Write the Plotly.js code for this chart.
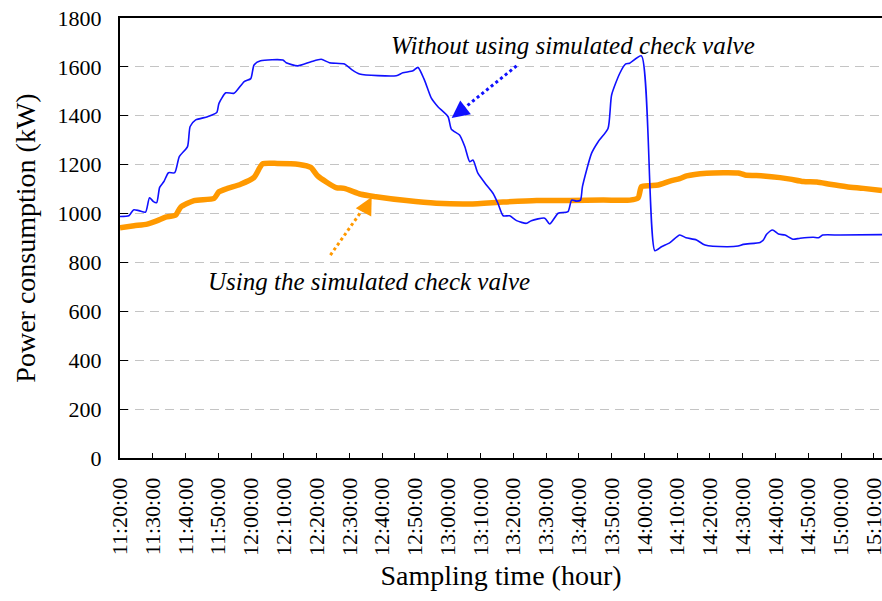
<!DOCTYPE html>
<html>
<head>
<meta charset="utf-8">
<script src="https://cdn.plot.ly/plotly-3.0.1.min.js"></script>
<style>html,body{margin:0;padding:0;background:#fff;}#chart{width:882px;height:601px;}</style>
</head>
<body>
<div id="chart"></div>
<script>
// Minutes after 11:20:00
const tickMinutes = [0,10,20,30,40,50,60,70,80,90,100,110,120,130,140,150,160,170,180,190,200,210,220,230];
const tickLabels = ["11:20:00","11:30:00","11:40:00","11:50:00","12:00:00","12:10:00","12:20:00","12:30:00","12:40:00","12:50:00","13:00:00","13:10:00","13:20:00","13:30:00","13:40:00","13:50:00","14:00:00","14:10:00","14:20:00","14:30:00","14:40:00","14:50:00","15:00:00","15:10:00"];

// Without using simulated check valve (kW)
const withoutTime = [0,2.7,4.1,5.8,7.8,9.0,10.2,11.2,12.1,13.4,14.8,16.7,18.1,20.6,21.4,23.1,26.7,29.5,30.2,32.3,34.8,37.9,39.9,40.9,42.9,49.7,50.7,54.2,58.3,61.4,63.9,68.5,70.6,73.1,84.3,86.3,89.4,90.9,92.9,95.0,97.0,100.1,101.1,103.6,105.2,106.7,107.7,109.2,111.8,113.8,115.3,116.9,118.9,121.0,124.0,125.5,129.6,131.1,133.7,136.7,137.8,139.3,140.5,141.1,143.9,145.9,148.9,150.0,152.5,154.3,155.5,159.1,163.2,165.2,167.8,170.8,172.7,175.9,178.5,185.1,188.6,190.2,195.3,196.3,197.3,199.1,200.9,202.9,205.3,207.5,211.5,213.1,214.4,219.7,232.5];
const withoutPower = [988,991,1015,1012,1006,1065,1049,1045,1107,1131,1167,1167,1233,1274,1356,1383,1396,1413,1451,1494,1492,1540,1552,1608,1625,1628,1617,1604,1621,1631,1617,1612,1590,1571,1564,1576,1584,1598,1546,1472,1437,1396,1345,1321,1274,1212,1219,1165,1117,1083,1042,991,991,971,960,971,981,957,1001,1008,1055,1051,1055,1110,1247,1294,1348,1485,1574,1612,1615,1645,848,864,881,912,901,892,871,864,867,874,882,892,915,933,916,912,895,899,903,901,912,912,914];

// Using the simulated check valve (kW)
const withTime = [0,4.3,8.3,11.4,13.9,17.0,18.5,22.6,28.7,30.2,32.8,36.8,40.9,43.5,48.0,54.7,58.2,60.3,65.9,68.4,73.5,78.1,87.4,96.5,106.7,116.9,127.1,137.2,147.4,155.6,158.1,159.1,161.7,164.2,167.8,170.8,172.9,179.0,184.1,188.6,190.7,196.3,201.4,204.5,208.5,212.6,216.6,221.7,226.8,232.5];
const withPower = [942,950,957,971,985,994,1026,1053,1062,1089,1103,1120,1148,1203,1205,1201,1189,1154,1106,1103,1079,1069,1053,1042,1039,1047,1053,1053,1055,1055,1064,1110,1114,1117,1133,1143,1154,1165,1167,1166,1158,1154,1147,1141,1131,1129,1120,1110,1103,1094];

const serif = "Liberation Serif, Times New Roman, serif";

const traces = [
  {x: withTime, y: withPower, type: 'scatter', mode: 'lines', name: 'Using the simulated check valve',
   line: {color: '#FF9900', width: 5.5, shape: 'spline', smoothing: 0.6}},
  {x: withoutTime, y: withoutPower, type: 'scatter', mode: 'lines', name: 'Without using simulated check valve',
   line: {color: '#1010FF', width: 1.6, shape: 'spline', smoothing: 0.6}}
];

const layout = {
  width: 882, height: 601,
  margin: {l: 120, r: 0, t: 18, b: 143},
  paper_bgcolor: '#fff', plot_bgcolor: '#fff',
  showlegend: false,
  font: {family: serif, color: '#000', size: 22},
  xaxis: {
    range: [0, 232.5], tickmode: 'array', tickvals: tickMinutes, ticktext: tickLabels,
    tickangle: -90, ticks: 'inside', ticklen: 5, tickcolor: '#000', tickwidth: 1,
    ticklabelstandoff: 9, ticklabeloverflow: 'allow',
    showline: true, linecolor: '#000', linewidth: 2, mirror: true,
    showgrid: false, zeroline: false,
    tickfont: {family: serif, size: 22, color: '#000'},
    title: {text: 'Sampling time (hour)', font: {family: serif, size: 28, color: '#000'}, standoff: 10}
  },
  yaxis: {
    range: [0, 1800], tickmode: 'linear', tick0: 0, dtick: 200,
    ticks: 'inside', ticklen: 8, tickcolor: '#000', tickwidth: 1,
    ticklabelstandoff: 12,
    showline: true, linecolor: '#000', linewidth: 2,
    showgrid: true, gridcolor: '#c4c4c4', gridwidth: 1, griddash: '9px,6px',
    zeroline: false,
    tickfont: {family: serif, size: 22, color: '#000'},
    title: {text: 'Power consumption (kW)', font: {family: serif, size: 28, color: '#000'}, standoff: 14}
  },
  shapes: [
    {type: 'line', xref: 'x', yref: 'y', x0: 121.0, y0: 1604, x1: 103.5, y1: 1415,
     line: {color: '#1010FF', width: 3, dash: 'dot'}},
    {type: 'line', xref: 'x', yref: 'y', x0: 64.2, y0: 830, x1: 75.0, y1: 1035,
     line: {color: '#FF9900', width: 3, dash: 'dot'}}
  ],
  annotations: [
    {x: 101.2, y: 1391, xref: 'x', yref: 'y', ax: 104.5, ay: 1425, axref: 'x', ayref: 'y',
     showarrow: true, arrowhead: 2, arrowsize: 1.4, arrowwidth: 2.5, arrowcolor: '#1010FF', text: ''},
    {x: 76.8, y: 1068, xref: 'x', yref: 'y', ax: 75.3, ay: 1030, axref: 'x', ayref: 'y',
     showarrow: true, arrowhead: 2, arrowsize: 1.4, arrowwidth: 2.5, arrowcolor: '#FF9900', text: ''},
    {x: (573 - 120) / 762, y: (458 - 46) / 440, xref: 'paper', yref: 'paper', xanchor: 'center', yanchor: 'middle',
     text: 'Without using simulated check valve', showarrow: false,
     font: {family: serif, size: 25, color: '#000', style: 'italic'}},
    {x: (369 - 120) / 762, y: (458 - 281) / 440, xref: 'paper', yref: 'paper', xanchor: 'center', yanchor: 'middle',
     text: 'Using the simulated check valve', showarrow: false,
     font: {family: serif, size: 25, color: '#000', style: 'italic'}}
  ]
};

Plotly.newPlot('chart', traces, layout, {staticPlot: true, displayModeBar: false});
</script>
</body>
</html>
